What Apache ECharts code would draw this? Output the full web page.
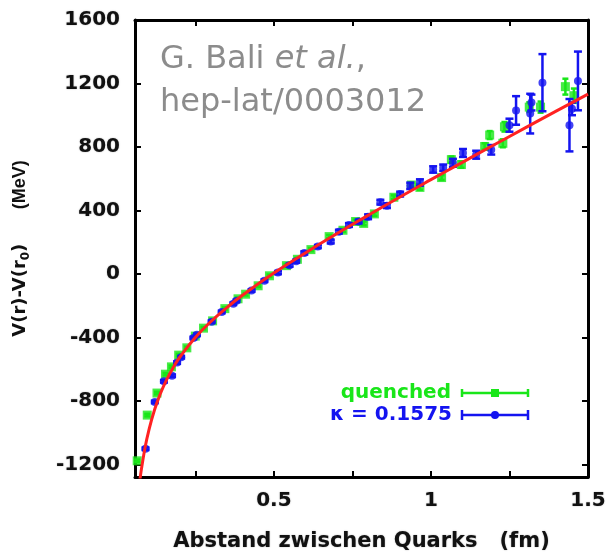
<!DOCTYPE html>
<html>
<head>
<meta charset="utf-8">
<script src="https://cdn.jsdelivr.net/npm/echarts/dist/echarts.min.js"></script>
<style>
  html, body { margin: 0; padding: 0; background: #fff; }
  #chart { width: 610px; height: 557px; }
</style>
</head>
<body>
<div id="chart"></div>
<script>
// Axis ticks and labels
const xTicks = [0.25, 0.5, 0.75, 1, 1.25, 1.5];
const xTickLabels = [0.5, 1, 1.5];
const yTicks = [-1200, -800, -400, 0, 400, 800, 1200, 1600];

// Quenched lattice data: distance r (fm), V(r)-V(r0) (MeV), error (MeV)
const quenchedR = [0.065, 0.097, 0.128, 0.155, 0.174, 0.197, 0.223, 0.25, 0.276, 0.305, 0.344, 0.386, 0.41, 0.45, 0.486, 0.54, 0.575, 0.618, 0.676, 0.72, 0.76, 0.786, 0.82, 0.882, 0.938, 0.965, 1.034, 1.065, 1.097, 1.171, 1.187, 1.229, 1.234, 1.313, 1.349, 1.428, 1.455];
const quenchedV = [-1178, -890, -751, -632, -586, -512, -466, -392, -342, -296, -219, -157, -128, -75, -12, 52, 92, 153, 235, 275, 330, 318, 378, 483, 560, 545, 607, 720, 689, 803, 875, 823, 927, 1051, 1051, 1180, 1123];
const quenchedErr = [8, 8, 8, 8, 8, 8, 8, 8, 8, 8, 8, 8, 8, 8, 8, 10, 10, 10, 10, 10, 12, 12, 12, 12, 15, 15, 15, 20, 20, 20, 25, 25, 30, 30, 35, 50, 45];

// Dynamical quarks, kappa = 0.1575
const kappaR = [0.0915, 0.121, 0.150, 0.176, 0.192, 0.205, 0.244, 0.255, 0.302, 0.334, 0.371, 0.381, 0.429, 0.470, 0.513, 0.55, 0.571, 0.597, 0.64, 0.681, 0.707, 0.739, 0.77, 0.80, 0.839, 0.86, 0.902, 0.934, 0.965, 1.007, 1.039, 1.07, 1.102, 1.144, 1.192, 1.250, 1.271, 1.316, 1.32, 1.355, 1.441, 1.449, 1.468];
const kappaV = [-1102, -807, -677, -642, -559, -525, -404, -384, -301, -240, -188, -170, -105, -43, 8, 55, 80, 132, 172, 204, 266, 308, 330, 360, 452, 430, 503, 555, 576, 658, 669, 700, 762, 751, 782, 937, 1030, 1010, 1080, 1205, 937, 1040, 1216];
const kappaErr = [8, 8, 8, 8, 8, 8, 8, 8, 8, 8, 8, 8, 8, 8, 10, 10, 10, 10, 10, 12, 12, 12, 12, 15, 15, 15, 15, 20, 20, 20, 20, 25, 25, 25, 30, 41, 90, 125, 50, 180, 165, 40, 185];

// Cornell potential fit curve
const fitR = [0.072, 0.075, 0.08, 0.09, 0.1, 0.12, 0.14, 0.16, 0.18, 0.2, 0.25, 0.3, 0.35, 0.4, 0.5, 0.6, 0.7, 0.8, 0.9, 1.0, 1.1, 1.2, 1.3, 1.4, 1.5];
const fitV = [-1321, -1277, -1210, -1096, -1003, -858, -749, -662, -589, -527, -401, -300, -213, -135, 5, 132, 253, 369, 483, 594, 703, 812, 920, 1027, 1133];

const GREEN = '#19e619';
const BLUE = '#1414f0';
const RED = '#ff2222';
const AXIS_FONT = 'DejaVu Sans';

const chart = echarts.init(document.getElementById('chart'), null, { renderer: 'canvas' });

function pairs(xs, ys) { return xs.map((x, i) => [x, ys[i]]); }

function errorBars(xs, ys, es, color, capHalf, z) {
  return {
    type: 'custom',
    z: z,
    silent: true,
    data: xs.map((x, i) => [x, ys[i] - es[i], ys[i] + es[i]]),
    encode: { x: 0, y: [1, 2] },
    renderItem(params, api) {
      const lo = api.coord([api.value(0), api.value(1)]);
      const hi = api.coord([api.value(0), api.value(2)]);
      const style = { stroke: color, lineWidth: 2.5, fill: null };
      return {
        type: 'group',
        children: [
          { type: 'line', shape: { x1: lo[0], y1: lo[1], x2: hi[0], y2: hi[1] }, style },
          { type: 'line', shape: { x1: lo[0] - capHalf, y1: lo[1], x2: lo[0] + capHalf, y2: lo[1] }, style },
          { type: 'line', shape: { x1: hi[0] - capHalf, y1: hi[1], x2: hi[0] + capHalf, y2: hi[1] }, style }
        ]
      };
    }
  };
}

const labelFont = {
  fontFamily: AXIS_FONT,
  fontWeight: 'bold',
  fontSize: 20,
  color: '#111',
  textShadowColor: 'rgba(0,0,0,0.35)',
  textShadowBlur: 1.5
};

const axisLineStyle = { color: '#000', width: 3 };
const tickStyle = { color: '#000', width: 2 };

const option = {
  animation: false,
  backgroundColor: '#fff',
  grid: { left: 133, right: 22, top: 20, bottom: 72, containLabel: false },
  xAxis: [
    {
      type: 'value', position: 'bottom', min: 0.058, max: 1.5,
      axisLine: { show: true, onZero: false, lineStyle: axisLineStyle },
      axisTick: { show: true, inside: true, length: 6, lineStyle: tickStyle, customValues: xTicks },
      axisLabel: Object.assign({ margin: 14, customValues: xTickLabels, formatter: v => String(v) }, labelFont),
      splitLine: { show: false },
      name: 'Abstand zwischen Quarks   (fm)',
      nameLocation: 'middle',
      nameGap: 54,
      nameTextStyle: Object.assign({}, labelFont, { fontSize: 21 })
    },
    {
      type: 'value', position: 'top', min: 0.058, max: 1.5,
      axisLine: { show: true, onZero: false, lineStyle: axisLineStyle },
      axisTick: { show: true, inside: true, length: 6, lineStyle: tickStyle, customValues: xTicks },
      axisLabel: { show: false },
      splitLine: { show: false }
    }
  ],
  yAxis: [
    {
      type: 'value', position: 'left', min: -1280, max: 1600,
      axisLine: { show: true, onZero: false, lineStyle: axisLineStyle },
      axisTick: { show: true, inside: true, length: 6, lineStyle: tickStyle, customValues: yTicks },
      axisLabel: Object.assign({ margin: 15, customValues: yTicks, formatter: v => String(v) }, labelFont),
      splitLine: { show: false },
      name: '{t|V(r)-V(r}{s|0}{t|)}{g|      }{m|(MeV)}',
      nameLocation: 'middle',
      nameGap: 103,
      nameTextStyle: {
        rich: {
          t: { fontFamily: AXIS_FONT, fontWeight: 'bold', fontSize: 18, color: '#111', lineHeight: 24 },
          s: { fontFamily: AXIS_FONT, fontWeight: 'bold', fontSize: 12, color: '#111', lineHeight: 24, padding: [12, 0, 0, 0] },
          g: { fontFamily: AXIS_FONT, fontSize: 18, lineHeight: 24 },
          m: { fontFamily: 'Liberation Sans', fontWeight: 'bold', fontSize: 18, color: '#111', lineHeight: 24 }
        }
      }
    },
    {
      type: 'value', position: 'right', min: -1280, max: 1600,
      axisLine: { show: true, onZero: false, lineStyle: axisLineStyle },
      axisTick: { show: true, inside: true, length: 6, lineStyle: tickStyle, customValues: yTicks },
      axisLabel: { show: false },
      splitLine: { show: false }
    }
  ],
  series: [
    errorBars(quenchedR, quenchedV, quenchedErr, GREEN, 3, 2),
    {
      name: 'quenched', type: 'scatter', z: 3,
      symbol: 'rect', symbolSize: 9,
      itemStyle: { color: GREEN },
      data: pairs(quenchedR, quenchedV)
    },
    errorBars(kappaR, kappaV, kappaErr, BLUE, 4, 4),
    {
      name: 'κ = 0.1575', type: 'scatter', z: 5,
      symbol: 'circle', symbolSize: 8,
      itemStyle: { color: BLUE },
      data: pairs(kappaR, kappaV)
    },
    {
      name: 'fit', type: 'line', z: 6,
      smooth: true, showSymbol: false,
      lineStyle: { color: RED, width: 3 },
      data: pairs(fitR, fitV)
    }
  ],
  graphic: [
    {
      type: 'text', left: 160, top: 44, z: 10,
      style: {
        text: '{n|G. Bali }{i|et al.}{n|,}\n{n|hep-lat/0003012}',
        rich: {
          n: { fontFamily: 'DejaVu Sans', fontSize: 32, fill: '#8c8c8c', lineHeight: 43 },
          i: { fontFamily: 'DejaVu Sans', fontSize: 32, fontStyle: 'italic', fill: '#8c8c8c', lineHeight: 43 }
        }
      }
    },
    // legend: quenched
    {
      type: 'text', z: 10, x: 451, y: 393,
      style: { text: 'quenched', align: 'right', verticalAlign: 'middle', fontFamily: AXIS_FONT, fontWeight: 'bold', fontSize: 20, fill: GREEN }
    },
    { type: 'line', z: 10, shape: { x1: 462, y1: 393, x2: 528, y2: 393 }, style: { stroke: GREEN, lineWidth: 2.5 } },
    { type: 'line', z: 10, shape: { x1: 462, y1: 389, x2: 462, y2: 397 }, style: { stroke: GREEN, lineWidth: 2.5 } },
    { type: 'line', z: 10, shape: { x1: 528, y1: 389, x2: 528, y2: 397 }, style: { stroke: GREEN, lineWidth: 2.5 } },
    { type: 'rect', z: 10, shape: { x: 491, y: 389, width: 8, height: 8 }, style: { fill: GREEN } },
    // legend: kappa
    {
      type: 'text', z: 10, x: 452, y: 415,
      style: { text: 'κ = 0.1575', align: 'right', verticalAlign: 'middle', fontFamily: AXIS_FONT, fontWeight: 'bold', fontSize: 20, fill: BLUE }
    },
    { type: 'line', z: 10, shape: { x1: 462, y1: 415, x2: 528, y2: 415 }, style: { stroke: BLUE, lineWidth: 2.5 } },
    { type: 'line', z: 10, shape: { x1: 462, y1: 410, x2: 462, y2: 420 }, style: { stroke: BLUE, lineWidth: 2.5 } },
    { type: 'line', z: 10, shape: { x1: 528, y1: 410, x2: 528, y2: 420 }, style: { stroke: BLUE, lineWidth: 2.5 } },
    { type: 'circle', z: 10, shape: { cx: 495, cy: 415, r: 4 }, style: { fill: BLUE } }
  ]
};

chart.setOption(option);
</script>
</body>
</html>
